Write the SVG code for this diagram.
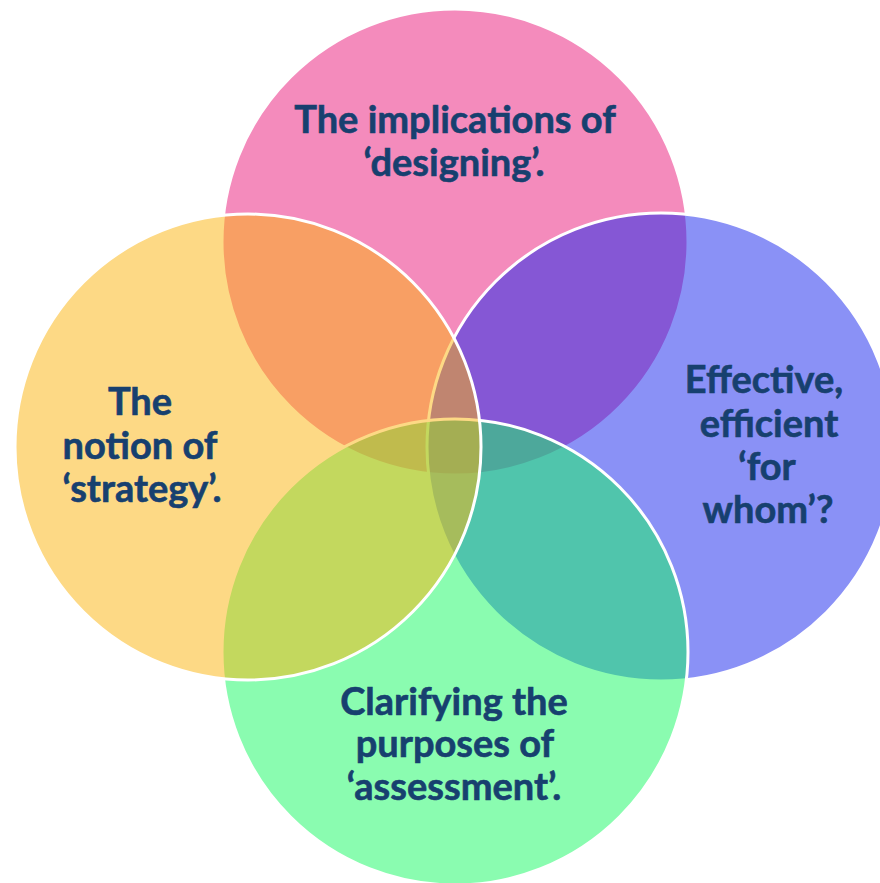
<svg xmlns="http://www.w3.org/2000/svg" width="880" height="883" viewBox="0 0 880 883">
  <style>
    .petal { stroke: #FFFFFF; stroke-width: 3; fill-opacity: 0.5; }
    .label { font-family: Lato, "Open Sans", "Liberation Sans", sans-serif; font-weight: 700; font-size: 38px; fill: #17406F; stroke: #17406F; stroke-width: 0.6; text-anchor: middle; }
  </style>
  <rect width="880" height="883" fill="#FFFFFF"/>

  <!-- Four overlapping translucent circles; later circles tint earlier outlines -->
  <g id="designing">
    <circle class="petal" cx="455" cy="242" r="233" fill="#E9177A"/>
    <text class="label" x="455" y="133">The implications of</text>
    <text class="label" x="454" y="176">‘designing’.</text>
  </g>

  <g id="for-whom">
    <circle class="petal" cx="661" cy="447" r="234" fill="#1523ED"/>
    <text class="label" x="764" y="393">Effective,</text>
    <text class="label" x="769" y="437">efficient</text>
    <text class="label" x="767" y="480">‘for</text>
    <text class="label" x="768" y="523">whom’?</text>
  </g>

  <g id="assessment">
    <circle class="petal" cx="455" cy="652" r="233" fill="#15F961"/>
    <text class="label" x="454" y="715">Clarifying the</text>
    <text class="label" x="455" y="757">purposes of</text>
    <text class="label" x="454" y="800">‘assessment’.</text>
  </g>

  <g id="strategy">
    <circle class="petal" cx="248" cy="447" r="233" fill="#FBB30B"/>
    <text class="label" x="140" y="415">The</text>
    <text class="label" x="140" y="459">notion of</text>
    <text class="label" x="142" y="502">‘strategy’.</text>
  </g>
</svg>
